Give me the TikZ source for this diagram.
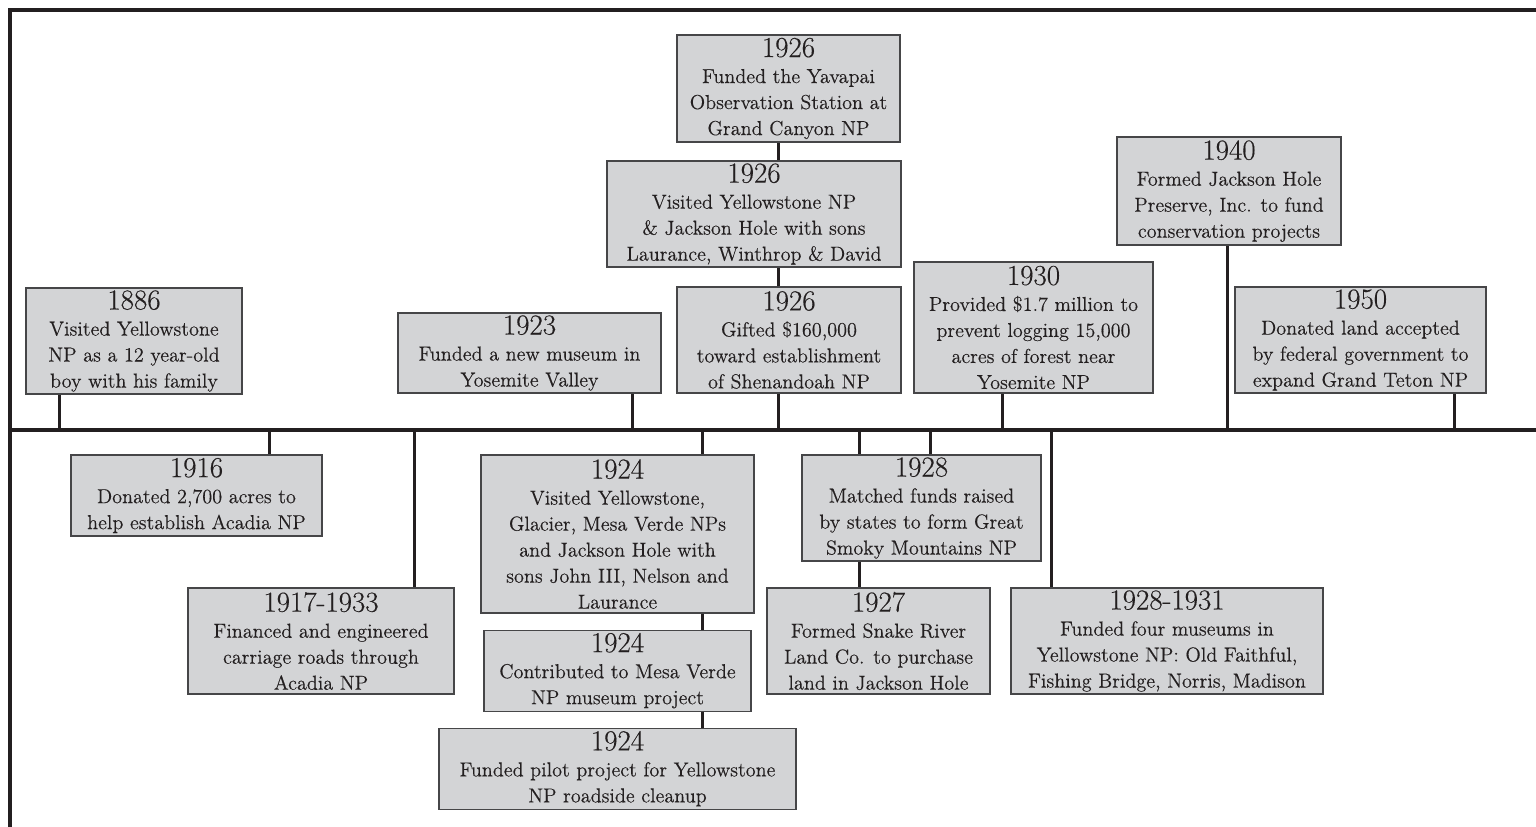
\documentclass[tikz,border=0pt]{standalone}
\usepackage{fontspec}
\setmainfont{Latin Modern Roman}[FakeBold=0.3]
\usepackage{xcolor}
\usepackage{tikz}
\usetikzlibrary{positioning,calc}
\definecolor{npInk}{RGB}{35,31,32}
\definecolor{npGray}{RGB}{211,212,214}
\definecolor{npEdge}{RGB}{70,70,72}
\newcommand{\yr}[1]{{\fontsize{16.5}{14.8}\selectfont #1}}

\begin{document}
\begin{tikzpicture}[x=0.02cm,y=-0.02cm,
  ev/.style={draw=npEdge,fill=npGray,line width=0.6pt,align=center,inner sep=0pt,text=npInk,font=\fontsize{11.5}{14.8}\selectfont},
  sz/.style 2 args={minimum width=#1*0.02cm,minimum height=#2*0.02cm},
  rule/.style={npInk,line width=0.08cm},
  tick/.style={npInk,line width=0.06cm}
]
  \useasboundingbox (0,0) rectangle (1536,827);
  % frame and time line
  \draw[rule] (10,827) -- (10,10) -- (1536,10);
  \coordinate (tl) at (10,430);
  \coordinate (tr) at (1536,430);
  \draw[rule,line width=0.07cm] (tl) -- (tr);

  % above the line
  \node[ev,sz={216}{106}] (y1886) at (134,341) {\yr{1886}\\Visited Yellowstone\\NP as a 12 year-old\\boy with his family};
  \node[ev,sz={263}{80}] (y1923) at (529.5,353) {\yr{1923}\\Funded a new museum in\\Yosemite Valley};
  \node[ev,sz={223}{107}] (y1926a) at (788.5,88.5) {\yr{1926}\\Funded the Yavapai\\Observation Station at\\Grand Canyon NP};
  \node[ev,sz={294}{106}] (y1926b) at (754,214) {\yr{1926}\\Visited Yellowstone NP\\\& Jackson Hole with sons\\Laurance, Winthrop \& David};
  \node[ev,sz={224}{106}] (y1926c) at (789,340) {\yr{1926}\\Gifted \$160,000\\toward establishment\\of Shenandoah NP};
  \node[ev,sz={239}{131}] (y1930) at (1033.5,327.5) {\yr{1930}\\Provided \$1.7 million to\\prevent logging 15,000\\acres of forest near\\Yosemite NP};
  \node[ev,sz={224}{108}] (y1940) at (1229,191) {\yr{1940}\\Formed Jackson Hole\\Preserve, Inc. to fund\\conservation projects};
  \node[ev,sz={251}{106}] (y1950) at (1360.5,340) {\yr{1950}\\Donated land accepted\\by federal government to\\expand Grand Teton NP};

  % below the line
  \node[ev,sz={251}{81}] (y1916) at (196.5,495.5) {\yr{1916}\\Donated 2,700 acres to\\help establish Acadia NP};
  \node[ev,sz={266}{106}] (y1917) at (321,641) {\yr{1917-1933}\\Financed and engineered\\carriage roads through\\Acadia NP};
  \node[ev,sz={273}{158}] (y1924a) at (617.5,534) {\yr{1924}\\Visited Yellowstone,\\Glacier, Mesa Verde NPs\\and Jackson Hole with\\sons John III, Nelson and\\Laurance};
  \node[ev,sz={267}{81},below=0.32cm of y1924a] (y1924b) {\yr{1924}\\Contributed to Mesa Verde\\NP museum project};
  \node[ev,sz={357}{81},below=0.32cm of y1924b] (y1924c) {\yr{1924}\\Funded pilot project for Yellowstone\\NP roadside cleanup};
  \node[ev,sz={239}{106}] (y1928) at (921.5,508) {\yr{1928}\\Matched funds raised\\by states to form Great\\Smoky Mountains NP};
  \node[ev,sz={223}{106}] (y1927) at (878.5,641) {\yr{1927}\\Formed Snake River\\Land Co. to purchase\\land in Jackson Hole};
  \node[ev,sz={312}{106}] (y1928b) at (1167,641) {\yr{1928-1931}\\Funded four museums in\\Yellowstone NP: Old Faithful,\\Fishing Bridge, Norris, Madison};

  % ticks on the time line
  \coordinate (t1886) at (59,430);
  \coordinate (t1916) at (269,430);
  \coordinate (t1917) at (414,430);
  \coordinate (t1923) at (632,430);
  \coordinate (t1924) at (702,430);
  \coordinate (t1926) at (778,430);
  \coordinate (t1927) at (859,430);
  \coordinate (t1928) at (930,430);
  \coordinate (t1930) at (1002,430);
  \coordinate (t1928b) at (1051,430);
  \coordinate (t1940) at (1227,430);
  \coordinate (t1950) at (1454,430);

  \draw[tick] (t1886) -- (t1886 |- y1886.south);
  \draw[tick] (t1923) -- (t1923 |- y1923.south);
  \draw[tick] (t1926) -- (t1926 |- y1926c.south);
  \draw[tick] (t1926 |- y1926c.north) -- (t1926 |- y1926b.south);
  \draw[tick] (t1926 |- y1926b.north) -- (t1926 |- y1926a.south);
  \draw[tick] (t1930) -- (t1930 |- y1930.south);
  \draw[tick] (t1940) -- (t1940 |- y1940.south);
  \draw[tick] (t1950) -- (t1950 |- y1950.south);

  \draw[tick] (t1916) -- (t1916 |- y1916.north);
  \draw[tick] (t1917) -- (t1917 |- y1917.north);
  \draw[tick] (t1924) -- (t1924 |- y1924a.north);
  \draw[tick] (t1924 |- y1924a.south) -- (t1924 |- y1924b.north);
  \draw[tick] (t1924 |- y1924b.south) -- (t1924 |- y1924c.north);
  \draw[tick] (t1927) -- (t1927 |- y1928.north);
  \draw[tick] (t1927 |- y1928.south) -- (t1927 |- y1927.north);
  \draw[tick] (t1928) -- (t1928 |- y1928.north);
  \draw[tick] (t1928b) -- (t1928b |- y1928b.north);
\end{tikzpicture}
\end{document}
